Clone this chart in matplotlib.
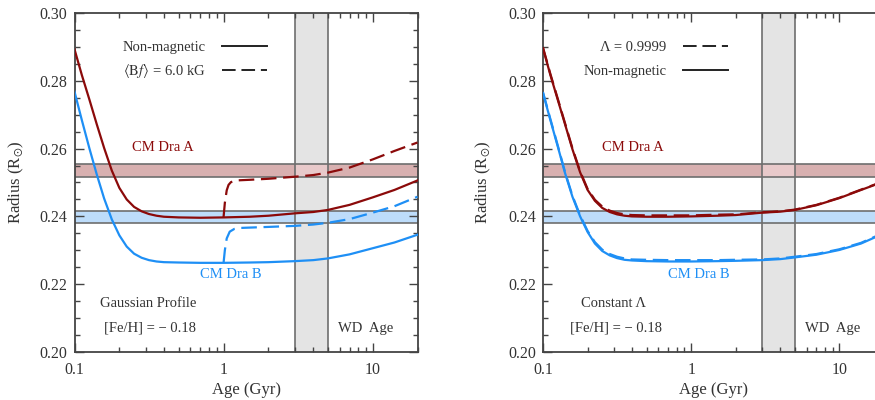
import numpy as np
import matplotlib
matplotlib.use("Agg")
import matplotlib.pyplot as plt
from matplotlib.lines import Line2D
from matplotlib.ticker import LogLocator, FixedLocator, FixedFormatter, MultipleLocator, NullFormatter

plt.rcParams['font.family'] = ['Liberation Serif', 'DejaVu Serif']
plt.rcParams['mathtext.fontset'] = 'stix'

# ---------------- data ----------------
ages = [0.1, 0.112, 0.126, 0.141, 0.158, 0.178, 0.2, 0.224, 0.251, 0.282, 0.316, 0.355, 0.398, 0.5, 0.7,
        1.0, 1.5, 2, 3, 4, 5, 7, 10, 14, 20]

# Left panel (Gaussian profile), non-magnetic models
rad_A_nm = [0.2893, 0.2817, 0.2744, 0.2672, 0.2602, 0.2535, 0.2484, 0.2450, 0.2428, 0.2415, 0.2407, 0.2402,
            0.2399, 0.2397, 0.2396, 0.2397, 0.2399, 0.2402, 0.2409, 0.2413, 0.2419, 0.2434, 0.2456, 0.2478, 0.2506]
rad_B_nm = [0.2768, 0.2684, 0.2600, 0.2524, 0.2453, 0.2391, 0.2344, 0.2311, 0.2290, 0.2278, 0.2271, 0.2267,
            0.2265, 0.2264, 0.2263, 0.2263, 0.2264, 0.2265, 0.2268, 0.2271, 0.2276, 0.2288, 0.2306, 0.2323, 0.2346]
# Left panel, magnetic models (<Bf> = 6.0 kG), switched on at 1 Gyr
age_A_mag = [1.0, 1.02, 1.05, 1.08, 1.12, 1.2, 1.5, 2, 3, 4, 5, 7, 10, 14, 20]
rad_A_mag = [0.2398, 0.2440, 0.2477, 0.2493, 0.2501, 0.2506, 0.2508, 0.2511, 0.2517, 0.2522, 0.2529, 0.2544,
             0.2568, 0.2593, 0.2618]
age_B_mag = [1.0, 1.02, 1.05, 1.1, 1.18, 1.3, 1.5, 2, 3, 4, 5, 7, 10, 14, 20]
rad_B_mag = [0.2263, 0.2300, 0.2335, 0.2355, 0.2363, 0.2366, 0.2367, 0.2369, 0.2372, 0.2376, 0.2381, 0.2392,
             0.2411, 0.2430, 0.2458]

# Right panel (constant Lambda)
rad_rA_nm = [0.2896, 0.2818, 0.2743, 0.2671, 0.2598, 0.2530, 0.2478, 0.2446, 0.2425, 0.2413, 0.2406, 0.2402,
             0.2400, 0.2399, 0.2399, 0.2400, 0.2402, 0.2404, 0.2411, 0.2414, 0.2419, 0.2433, 0.2454, 0.2478, 0.2503]
rad_rA_L = [0.2898, 0.2821, 0.2746, 0.2674, 0.2601, 0.2533, 0.2481, 0.2449, 0.2429, 0.2417, 0.2410, 0.2406,
            0.2404, 0.2403, 0.2403, 0.2403, 0.2405, 0.2406, 0.2412, 0.2415, 0.2420, 0.2434, 0.2455, 0.2479, 0.2504]
rad_rB_nm = [0.2764, 0.2685, 0.2605, 0.2527, 0.2458, 0.2400, 0.2354, 0.2320, 0.2298, 0.2285, 0.2277, 0.2272,
             0.2270, 0.2268, 0.2267, 0.2267, 0.2268, 0.2269, 0.2271, 0.2274, 0.2279, 0.2287, 0.2301, 0.2320, 0.2350]
rad_rB_L = [0.2766, 0.2688, 0.2608, 0.2530, 0.2461, 0.2403, 0.2357, 0.2324, 0.2302, 0.2289, 0.2281, 0.2276,
            0.2273, 0.2272, 0.2271, 0.2271, 0.2271, 0.2272, 0.2273, 0.2276, 0.2281, 0.2289, 0.2303, 0.2322, 0.2352]

# observed radii bands and white dwarf age
band_A = [0.2517, 0.2555]
band_B = [0.2381, 0.2417]
wd_age = [3.0, 5.0]

xticks = [0.1, 1, 10]
xtick_labels = ["0.1", "1", "10"]
yticks = [0.20, 0.22, 0.24, 0.26, 0.28, 0.30]
ytick_labels = ["0.20", "0.22", "0.24", "0.26", "0.28", "0.30"]

# ---------------- style ----------------
RED = '#8b0a0a'
BLUE = '#1e8ff5'
TXT = '#333333'
EDGE = '#6e6e6e'
DASH = (7, 3)

fig = plt.figure(figsize=(8.75, 4.0), dpi=100)
ax1 = fig.add_axes([74.5 / 875, 48 / 400, 343 / 875, 339 / 400])
ax2 = fig.add_axes([543 / 875, 48 / 400, 341 / 875, 339 / 400])


def setup(ax):
    ax.set_xscale('log')
    ax.set_xlim(0.1, 20)
    ax.set_ylim(0.20, 0.30)
    # bands
    ax.axhspan(band_A[0], band_A[1], facecolor='#d8b0b0', edgecolor='none', zorder=1)
    ax.axhspan(band_B[0], band_B[1], facecolor='#bddcfa', edgecolor='none', zorder=1)
    ax.axvspan(wd_age[0], wd_age[1], facecolor='#e4e4e4', edgecolor='none', zorder=1.2)
    ax.fill_between(wd_age, band_A[0], band_A[1], facecolor='#e8c9ca', edgecolor='none', zorder=1.3)
    ax.fill_between(wd_age, band_B[0], band_B[1], facecolor='#d3e6f8', edgecolor='none', zorder=1.3)
    for v in band_A + band_B:
        ax.axhline(v, color=EDGE, lw=1.2, zorder=1.5)
    for v in wd_age:
        ax.axvline(v, color=EDGE, lw=1.2, zorder=1.5)
    # ticks
    ax.xaxis.set_major_locator(FixedLocator(xticks))
    ax.xaxis.set_major_formatter(FixedFormatter(xtick_labels))
    ax.xaxis.set_minor_locator(LogLocator(base=10, subs=np.arange(2, 10)))
    ax.xaxis.set_minor_formatter(NullFormatter())
    ax.yaxis.set_major_locator(FixedLocator(yticks))
    ax.yaxis.set_major_formatter(FixedFormatter(ytick_labels))
    ax.yaxis.set_minor_locator(MultipleLocator(0.005))
    ax.tick_params(which='both', direction='in', top=True, right=True, colors='#444444',
                   labelcolor=TXT, labelsize=11.5, width=1.0)
    ax.tick_params(which='major', length=6.5)
    ax.tick_params(which='minor', length=3.5)
    ax.tick_params(axis='x', which='major', pad=7)
    ax.tick_params(axis='y', which='major', pad=5)
    for s in ax.spines.values():
        s.set_color('#444444')
        s.set_linewidth(1.3)
    ax.set_xlabel('Age (Gyr)', fontsize=12, color=TXT)
    ax.xaxis.set_label_coords(0.5, -0.089)
    ax.set_ylabel(r'Radius (R$_{\odot}$)', fontsize=12, color=TXT)


setup(ax1)
setup(ax2)
ax1.yaxis.set_label_coords(-0.140, 0.5)
ax2.yaxis.set_label_coords(-0.148, 0.5)

lw = 1.6
# left panel
ax1.plot(ages, rad_A_nm, color=RED, lw=lw, zorder=3)
ax1.plot(ages, rad_B_nm, color=BLUE, lw=lw, zorder=3)
ax1.plot(age_A_mag, rad_A_mag, color=RED, lw=lw, ls=(0, DASH), zorder=3)
ax1.plot(age_B_mag, rad_B_mag, color=BLUE, lw=lw, ls=(0, DASH), zorder=3)

# right panel
ax2.plot(ages, rad_rA_nm, color=RED, lw=lw, zorder=3)
ax2.plot(ages, rad_rB_nm, color=BLUE, lw=lw, zorder=3)
ax2.plot(ages, rad_rA_L, color=RED, lw=lw, ls=(0, DASH), zorder=3)
ax2.plot(ages, rad_rB_L, color=BLUE, lw=lw, ls=(0, DASH), zorder=3)

# annotations
FS = 10.5
for ax, (xa, xb) in ((ax1, (0.39, 1.11)), (ax2, (0.404, 1.12))):
    ax.text(xa, 0.2602, 'CM Dra A', color=RED, fontsize=FS, ha='center', va='center')
    ax.text(xb, 0.2230, 'CM Dra B', color=BLUE, fontsize=FS, ha='center', va='center')
    ax.text(9.0, 0.2070, 'WD  Age', color=TXT, fontsize=FS, ha='center', va='center')

ax1.text(0.314, 0.2142, 'Gaussian Profile', color=TXT, fontsize=FS, ha='center', va='center')
ax1.text(0.321, 0.2070, '[Fe/H] = \u2212 0.18', color=TXT, fontsize=FS, ha='center', va='center')
ax2.text(0.299, 0.2142, 'Constant \u039b', color=TXT, fontsize=FS, ha='center', va='center')
ax2.text(0.31, 0.2070, '[Fe/H] = \u2212 0.18', color=TXT, fontsize=FS, ha='center', va='center')

# legends
h_solid = Line2D([], [], color='#222222', lw=1.4)
h_dash = Line2D([], [], color='#222222', lw=1.4, ls=(0, DASH))
leg_kw = dict(markerfirst=False, frameon=False, loc='upper right', borderpad=0, borderaxespad=0,
              handlelength=3.1, handletextpad=1.1, fontsize=FS, labelcolor=TXT)
ax1.legend([h_solid, h_dash], ['Non-magnetic', r'$\langle\mathrm{B}f\rangle$ = 6.0 kG'],
           bbox_to_anchor=(0.561, 0.919), labelspacing=0.55, **leg_kw)
ax2.legend([h_dash, h_solid], ['\u039b = 0.9999', 'Non-magnetic'],
           bbox_to_anchor=(0.5425, 0.919), labelspacing=0.78, **leg_kw)

fig.savefig('out.png', dpi=100)
